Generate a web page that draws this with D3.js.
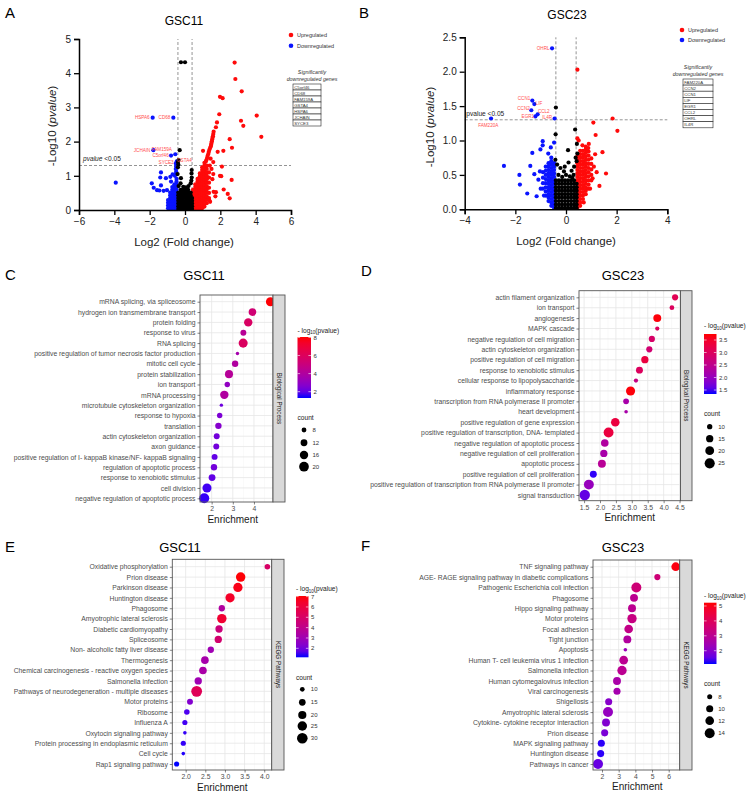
<!DOCTYPE html>
<html><head><meta charset="utf-8">
<script src="https://cdn.jsdelivr.net/npm/d3@7"></script>
<style>body{margin:0;background:#fff;} text{font-family:"Liberation Sans",Arial,Helvetica,sans-serif;}</style>
</head><body><svg id="c" width="756" height="795"></svg>
<script>
// ---------------- DATA ----------------
// Panel A (GSC11 volcano): [log2FC, -log10 p]
const aUpCols = [
 [0.45,[0.03,0.11,0.19,0.27,0.35,0.43,0.51,0.59]],
 [0.58,[0.03,0.11,0.19,0.27,0.35,0.43,0.51,0.59,0.67,0.75]],
 [0.71,[0.03,0.11,0.19,0.27,0.35,0.43,0.51,0.59,0.67,0.75,0.83,0.91]],
 [0.84,[0.03,0.11,0.19,0.27,0.35,0.43,0.51,0.59,0.67,0.75,0.83,0.91,0.99,1.07]],
 [0.97,[0.05,0.13,0.21,0.29,0.37,0.45,0.53,0.61,0.69,0.77,0.85,0.93,1.01,1.09,1.17,1.25]],
 [1.10,[0.10,0.18,0.26,0.34,0.42,0.50,0.58,0.66,0.74,0.82,0.90,0.98,1.06,1.14,1.22,1.30,1.38]],
 [1.23,[0.20,0.30,0.40,0.50,0.60,0.70,0.80,0.90,1.00,1.10,1.20,1.30]],
 [1.36,[0.35,0.50,0.65,0.80,0.95,1.10]]
];
const aUpPts = [[2.81,4.31],[2.85,3.83],[3.21,3.47],[1.98,3.31],[2.13,3.27],[4.06,2.76],[3.17,2.61],[3.30,2.46],[4.32,2.14],[1.94,2.80],[1.81,2.56],[1.75,2.42],[2.53,2.07],[2.66,1.82],[2.17,1.73],[1.85,1.70],[1.02,1.73],[2.09,1.27],[1.98,1.0],[2.05,0.99],[2.64,0.88],[2.19,0.6],[1.75,0.52],[2.42,0.47],[2.53,0.34],[1.42,0.24],[1.62,0.53],[1.72,0.4],[1.38,0.28],[1.1,0.2],[1.55,0.9],[1.6,1.05],[1.5,1.2],
 [1.62,2.29],[1.60,2.22],[1.58,2.16],[1.56,2.11],[1.54,2.06],[1.52,2.01],[1.50,1.96],[1.48,1.91],[1.46,1.86],[1.42,1.81],[1.38,1.76],[1.35,1.70],[1.32,1.64],[1.28,1.58],[1.25,1.52],[1.22,1.47],[1.18,1.42],[1.6,1.4],[1.45,1.5],[1.4,1.3]];
const aDownCols = [
 [-0.48,[0.03,0.11,0.19,0.27,0.35,0.43,0.51,0.59,0.67,0.75,0.83,0.91]],
 [-0.60,[0.03,0.11,0.19,0.27,0.35,0.43,0.51,0.59,0.67,0.75]],
 [-0.72,[0.03,0.11,0.19,0.27,0.35,0.43,0.51,0.59,0.67]],
 [-0.84,[0.03,0.11,0.19,0.27,0.35,0.43,0.51]],
 [-0.96,[0.05,0.13,0.21,0.29]]
];
const aDownPts = [[-3.92,0.8],[-1.36,1.1],[-1.4,0.95],[-1.08,0.93],[-1.88,0.78],[-1.77,0.65],[-1.58,0.58],[-1.36,0.72],[-1.21,0.56],[-1.02,0.58],[-0.79,0.83],[-0.83,0.97],[-0.7,1.04],[-0.57,1.0],[-1.45,0.57],[-0.5,1.28],[-0.52,1.2],[-0.5,1.12],[-0.53,1.05],
 [-1.83,2.70],[-0.66,2.70],[-1.79,1.75],[-0.55,1.63],[-0.79,1.59],[-0.52,1.36],[-0.47,1.42]];
const aNsCols = [
 [-0.38,[0.03,0.11,0.19,0.27,0.35,0.43,0.51]],
 [-0.24,[0.03,0.11,0.19,0.27,0.35,0.43,0.51,0.59]],
 [-0.10,[0.03,0.11,0.19,0.27,0.35,0.43,0.51,0.59]],
 [0.04,[0.03,0.11,0.19,0.27,0.35,0.43,0.51,0.59]],
 [0.18,[0.03,0.11,0.19,0.27,0.35,0.43,0.51,0.59]],
 [0.32,[0.03,0.11,0.19,0.27,0.35,0.43,0.51]],
 [0.40,[0.03,0.11,0.19,0.27,0.35]]
];
const aNsPts = [[-0.23,4.32],[0.0,4.32],[-0.3,1.75],[-0.36,1.46],[-0.4,1.4],[-0.38,1.33],[0.38,1.17],[0.37,1.07],[0.38,0.95],[0.36,0.86],[0.32,0.78],[-0.23,0.93],[-0.25,0.78],[-0.36,0.7],[0.2,0.7],[-0.1,0.68],[0.05,0.66],[-0.4,1.25],[-0.42,1.05]];
// labels: [gene, textX, textY, anchor]
const aLabels = [["HSPA6",-2.0,2.70,"end"],["CD68",-0.83,2.70,"end"],["JCHAIN",-1.96,1.75,"end"],["FAM159A",-0.74,1.76,"end"],["C5orf46",-0.92,1.59,"end"],["SYCE3",-0.64,1.38,"end"],["GSTA4",-0.45,1.46,"start"]];
const aTable = ["C5orf46","CD68","FAM159A","GSTA4","HSPA6","JCHAIN","SYCE3"];
const aXTicks = [-6,-4,-2,0,2,4,6];
const aYTicks = [0,1,2,3,4,5];

// Panel B (GSC23 volcano)
const bUpCols = [
 [0.45,[0.02,0.07,0.12,0.17,0.22,0.27,0.32,0.37,0.42,0.47,0.52,0.57,0.62,0.67,0.72,0.77]],
 [0.56,[0.05,0.10,0.15,0.20,0.25,0.30,0.35,0.40,0.45,0.50,0.55,0.60,0.65,0.70,0.75,0.80,0.85]],
 [0.67,[0.15,0.20,0.25,0.30,0.35,0.40,0.45,0.50,0.55,0.60,0.65,0.70,0.75,0.80,0.85]],
 [0.78,[0.22,0.27,0.32,0.37,0.42,0.47,0.52,0.57,0.62,0.67,0.72,0.77,0.82,0.87]],
 [0.89,[0.30,0.36,0.42,0.48,0.54,0.60,0.66,0.72,0.78,0.84]],
 [1.00,[0.42,0.50,0.58,0.66,0.74]]
];
const bUpPts = [[0.45,2.03],[1.84,1.32],[1.08,1.26],[2.03,1.14],[1.17,1.08],[1.44,0.83],[1.58,0.52],[1.32,0.34],[1.21,0.54],[0.45,1.03],[0.5,1.0],[0.65,0.93],[0.78,0.91],[0.88,0.89],[1.1,0.62],[1.05,0.45],[0.95,0.3],[0.7,0.1],[1.15,0.8],[0.9,0.95]];
const bDownCols = [
 [-0.47,[0.02,0.07,0.12,0.17,0.22,0.27,0.32,0.37,0.42,0.47,0.52,0.57,0.62,0.67]],
 [-0.58,[0.05,0.10,0.15,0.20,0.25,0.30,0.35,0.40,0.45,0.50,0.55,0.60,0.65,0.70,0.75]],
 [-0.69,[0.12,0.17,0.22,0.27,0.32,0.37,0.42,0.47,0.52,0.57,0.62,0.67]],
 [-0.80,[0.20,0.26,0.32,0.38,0.44,0.50,0.56,0.62]],
 [-0.91,[0.30,0.38,0.46,0.54]]
];
const bDownPts = [[-2.45,0.63],[-1.84,0.5],[-1.82,0.36],[-1.53,0.23],[-1.41,0.63],[-1.33,0.82],[-1.25,0.51],[-1.16,0.19],[-1.01,0.87],[-0.92,0.99],[-0.92,0.93],[-0.87,0.2],[-1.03,0.55],[-1.09,0.43],[-0.47,0.97],[-0.7,0.81],[-0.6,0.9],[-1.0,0.3],
 [-0.55,2.34],[-1.33,1.58],[-1.25,1.53],[-1.37,1.44],[-1.12,1.38],[-1.21,1.35],[-0.45,1.32],[-2.96,1.32]];
const bNsCols = [
 [-0.40,[0.02,0.07,0.12,0.17,0.22,0.27,0.32,0.37,0.42]],
 [-0.28,[0.02,0.07,0.12,0.17,0.22,0.27,0.32,0.37,0.42]],
 [-0.16,[0.02,0.07,0.12,0.17,0.22,0.27,0.32,0.37,0.42]],
 [-0.04,[0.02,0.07,0.12,0.17,0.22,0.27,0.32,0.37,0.42]],
 [0.08,[0.02,0.07,0.12,0.17,0.22,0.27,0.32,0.37,0.42]],
 [0.20,[0.02,0.07,0.12,0.17,0.22,0.27,0.32,0.37,0.42]],
 [0.32,[0.02,0.07,0.12,0.17,0.22,0.27,0.32,0.37,0.42]],
 [0.42,[0.02,0.07,0.12,0.17,0.22,0.27,0.32,0.37]]
];
const bNsPts = [[-0.4,1.48],[-0.41,1.09],[0.36,1.16],[0.43,0.95],[0.08,0.86],[0.45,0.81],[-0.35,0.65],[-0.22,0.6],[-0.08,0.55],[0.1,0.68],[0.22,0.56],[0.32,0.62],[-0.3,0.5],[0.0,0.5],[0.15,0.48],[-0.15,0.47],[0.38,0.75],[0.42,0.7],[-0.42,0.72],[0.3,0.5],[-0.05,0.62],[0.25,0.46]];
const bLabels = [["OHRL",-0.65,2.34,"end"],["CCN1",-1.41,1.61,"end"],["LIF",-1.2,1.54,"start"],["CCN2",-1.43,1.46,"end"],["CCL2",-1.11,1.43,"start"],["EGR1",-1.26,1.35,"end"],["IL4R",-0.55,1.34,"end"],["FAM220A",-3.07,1.22,"middle"]];
const bTable = ["FAM220A","CCN2","CCN1","LIF","EGR1","CCL2","OHRL","IL4R"];
const bXTicks = [-4,-2,0,2,4];
const bYTicks = [0,0.5,1.0,1.5,2.0,2.5];

// Panel C (GSC11 GO BP)
const cTerms = ["mRNA splicing, via spliceosome","hydrogen ion transmembrane transport","protein folding","response to virus","RNA splicing","positive regulation of tumor necrosis factor production","mitotic cell cycle","protein stabilization","ion transport","mRNA processing","microtubule cytoskeleton organization","response to hypoxia","translation","actin cytoskeleton organization","axon guidance","positive regulation of I- kappaB kinase/NF- kappaB signaling","regulation of apoptotic process","response to xenobiotic stimulus","cell division","negative regulation of apoptotic process"];
const cEnrich = [4.78,3.93,3.73,3.5,3.49,3.22,3.11,2.82,2.74,2.6,2.46,2.38,2.32,2.24,2.22,2.14,2.11,2.02,1.78,1.65];
const cLogP = [8.0,5.3,5.8,4.3,5.9,3.6,4.0,4.2,3.0,4.0,2.2,2.5,2.7,2.3,2.3,2.0,2.3,2.0,1.6,1.5];
const cCount = [18,14,16,10,18,6,11,15,9,16,6,9,11,10,10,10,11,12,18,21];
const cXTicks = [2,3,4];
const cColorTicks = [2,4,6,8];
const cCountTicks = [8,12,16,20];

// Panel D (GSC23 GO BP)
const dTerms = ["actin filament organization","ion transport","angiogenesis","MAPK cascade","negative regulation of cell migration","actin cytoskeleton organization","positive regulation of cell migration","response to xenobiotic stimulus","cellular response to lipopolysaccharide","inflammatory response","transcription from RNA polymerase II promoter","heart development","positive regulation of gene expression","positive regulation of transcription, DNA- templated","negative regulation of apoptotic process","negative regulation of cell proliferation","apoptotic process","positive regulation of cell proliferation","positive regulation of transcription from RNA polymerase II promoter","signal transduction"];
const dEnrich = [4.36,4.26,3.8,3.8,3.63,3.55,3.41,3.24,3.13,2.96,2.82,2.82,2.48,2.27,2.15,2.12,2.06,1.79,1.65,1.52];
const dLogP = [3.1,3.0,3.7,3.0,2.9,2.8,3.3,3.0,2.6,3.7,2.2,2.2,3.3,3.3,2.3,2.2,2.4,1.4,2.0,1.6];
const dCount = [12,9,17,8,12,12,15,14,8,21,11,7,19,24,16,15,17,14,24,26];
const dXTicks = [1.5,2.0,2.5,3.0,3.5,4.0,4.5];
const dColorTicks = [1.5,2.0,2.5,3.0,3.5];
const dCountTicks = [10,15,20,25];

// Panel E (GSC11 KEGG)
const eTerms = ["Oxidative phosphorylation","Prion disease","Parkinson disease","Huntington disease","Phagosome","Amyotrophic lateral sclerosis","Diabetic cardiomyopathy","Spliceosome","Non- alcoholic fatty liver disease","Thermogenesis","Chemical carcinogenesis -  reactive oxygen species","Salmonella infection","Pathways of neurodegeneration -  multiple diseases","Motor proteins","Ribosome","Influenza A","Oxytocin signaling pathway","Protein processing in endoplasmic reticulum","Cell cycle","Rap1 signaling pathway"];
const eEnrich = [4.08,3.4,3.33,3.13,2.92,2.92,2.85,2.83,2.64,2.49,2.44,2.32,2.28,2.11,2.03,1.98,1.98,1.94,1.94,1.77];
const eLogP = [5.0,7.0,6.8,6.5,3.5,6.3,4.5,4.8,3.0,3.2,3.3,3.0,5.4,2.3,1.5,1.4,1.3,1.3,1.2,1.1];
const eCount = [12,25,24,24,14,25,17,17,14,18,18,17,31,13,12,11,8,11,8,11];
const eXTicks = [2.0,2.5,3.0,3.5,4.0];
const eColorTicks = [2,3,4,5,6,7];
const eCountTicks = [10,15,20,25,30];

// Panel F (GSC23 KEGG)
const fTerms = ["TNF signaling pathway","AGE- RAGE signaling pathway in diabetic complications","Pathogenic Escherichia coli infection","Phagosome","Hippo signaling pathway","Motor proteins","Focal adhesion","Tight junction","Apoptosis","Human T- cell leukemia virus 1 infection","Salmonella infection","Human cytomegalovirus infection","Viral carcinogenesis","Shigellosis","Amyotrophic lateral sclerosis","Cytokine- cytokine receptor interaction","Prion disease","MAPK signaling pathway","Huntington disease","Pathways in cancer"];
const fEnrich = [6.42,5.32,4.06,3.92,3.8,3.8,3.6,3.52,3.4,3.3,3.2,2.9,2.9,2.4,2.36,2.24,2.16,1.96,1.92,1.76];
const fLogP = [5.1,3.5,3.5,3.0,3.0,3.3,3.2,2.8,2.3,3.0,3.0,2.6,2.5,2.0,2.2,1.9,1.8,1.2,1.2,1.6];
const fCount = [12,9,14,11,11,13,12,11,7,12,13,11,10,10,14,11,10,10,10,14];
const fXTicks = [2,3,4,5,6];
const fColorTicks = [2,3,4,5];
const fCountTicks = [8,10,12,14];

// ---------------- DRAWING ----------------
const svg = d3.select("#c");
const defs = svg.append("defs");
function expand(cols){const o=[];cols.forEach(([x,ys])=>ys.forEach(y=>o.push([x,y])));return o;}

function letter(t,x,y){svg.append("text").attr("x",x).attr("y",y).attr("font-size",15).attr("fill","#000").text(t);}

function volcano(o){
  const x=d3.scaleLinear().domain(o.xd).range([o.l,o.r]);
  const y=d3.scaleLinear().domain(o.yd).range([o.b,o.t]);
  const g=svg.append("g");
  const thr=-Math.log10(0.05);
  [-0.4,0.4].forEach(v=>g.append("line").attr("x1",x(v)).attr("x2",x(v)).attr("y1",o.b).attr("y2",o.t)
    .attr("stroke","#666").attr("stroke-width",0.7).attr("stroke-dasharray","3,2"));
  g.append("line").attr("x1",o.l).attr("x2",o.r).attr("y1",y(thr)).attr("y2",y(thr))
    .attr("stroke","#666").attr("stroke-width",0.7).attr("stroke-dasharray","3,2");
  const dot=(data,c)=>g.append("g").selectAll("circle").data(data).join("circle")
    .attr("cx",d=>x(d[0])).attr("cy",d=>y(d[1])).attr("r",2.1).attr("fill",c);
  dot(o.up,"#ff0a0a"); dot(o.down,"#0a14ff"); dot(o.ns,"#000");
  g.append("g").selectAll("text").data(o.labels).join("text")
    .attr("x",d=>x(d[1])).attr("y",d=>y(d[2])).attr("dy","0.35em").attr("text-anchor",d=>d[3])
    .attr("font-size",4.6).attr("fill","#ff5050").text(d=>d[0]);
  const xa=g.append("g").attr("transform",`translate(0,${o.b})`).call(d3.axisBottom(x).tickValues(o.xt).tickSize(5).tickPadding(3).tickFormat(d3.format("d")));
  const ya=g.append("g").attr("transform",`translate(${o.l},0)`).call(d3.axisLeft(y).tickValues(o.yt).tickSize(5).tickPadding(3).tickFormat(d3.format(o.yf)));
  [xa,ya].forEach(a=>{a.select(".domain").attr("stroke-width",1.5).attr("stroke","#000");
    a.selectAll(".tick line").attr("stroke-width",1.3).attr("stroke","#000");
    a.selectAll("text").attr("font-size",10).attr("fill","#222").attr("font-family",'"Liberation Sans",Arial,sans-serif');});
  g.append("text").attr("x",o.title[0]).attr("y",o.title[1]).attr("text-anchor","middle").attr("font-size",12).text(o.titleText);
  g.append("text").attr("x",o.xlab[0]).attr("y",o.xlab[1]).attr("text-anchor","middle").attr("font-size",11.5).attr("fill","#222").text("Log2 (Fold change)");
  const yl=g.append("text").attr("transform",`translate(${o.ylab[0]},${o.ylab[1]}) rotate(-90)`).attr("text-anchor","middle").attr("font-size",11.5).attr("fill","#222");
  yl.append("tspan").text("-Log10 (");yl.append("tspan").attr("font-style","italic").text("pvalue");yl.append("tspan").text(")");
  const pv=g.append("text").attr("x",o.pv[0]).attr("y",o.pv[1]).attr("font-size",6.6).attr("fill","#222");
  pv.append("tspan").attr("font-style",o.pvItalic?"italic":"normal").text("pvalue");pv.append("tspan").text(" <0.05");
  [["Upregulated","#ff0a0a",o.leg[1]],["Downregulated","#0a14ff",o.leg[2]]].forEach(([t,c,yy])=>{
    g.append("circle").attr("cx",o.leg[0]).attr("cy",yy).attr("r",2.3).attr("fill",c);
    g.append("text").attr("x",o.leg[0]+6).attr("y",yy).attr("dy","0.35em").attr("font-size",5.5).attr("fill","#333").text(t);});
  ["Significantly","downregulated genes"].forEach((t,i)=>g.append("text").attr("x",o.sig[0]).attr("y",o.sig[1]+i*7)
    .attr("text-anchor","middle").attr("font-size",5.3).attr("font-style","italic").attr("fill","#333").text(t));
  const tb=o.tab;
  o.table.forEach((t,i)=>{
    g.append("rect").attr("x",tb[0]).attr("y",tb[1]+i*tb[3]).attr("width",tb[2]).attr("height",tb[3]).attr("fill","#fff").attr("stroke","#222").attr("stroke-width",0.6);
    g.append("text").attr("x",tb[0]+1.2).attr("y",tb[1]+i*tb[3]+tb[3]/2).attr("dy","0.35em").attr("font-size",4.3).attr("fill","#333").text(t);
  });
}

volcano({l:79,r:291,t:39,b:210,xd:[-6,6],yd:[0,5],xt:aXTicks,yt:aYTicks,yf:"d",
  up:expand(aUpCols).concat(aUpPts),down:expand(aDownCols).concat(aDownPts),ns:expand(aNsCols).concat(aNsPts),
  labels:aLabels,table:aTable,titleText:"GSC11",title:[184,24.5],xlab:[184,246],ylab:[56,126],
  pv:[83,161],pvItalic:true,leg:[291,35,45.7],sig:[312,74],tab:[293,84,28,6]});
volcano({l:464.7,r:667.3,t:37.3,b:209.3,xd:[-4,4],yd:[0,2.5],xt:bXTicks,yt:bYTicks,yf:".1f",
  up:expand(bUpCols).concat(bUpPts),down:expand(bDownCols).concat(bDownPts),ns:expand(bNsCols).concat(bNsPts),
  labels:bLabels,table:bTable,titleText:"GSC23",title:[567,18.5],xlab:[566,245],ylab:[434,127],
  pv:[466.3,116],pvItalic:false,leg:[682,30,40],sig:[698,69],tab:[683,79,30,6.1]});

let gid=0;
function bubble(o){
  const x=d3.scaleLinear().domain(o.xd).range([o.l,o.r]);
  const y=d3.scalePoint().domain(o.terms).range([o.r0,o.r1]);
  const col=d3.scaleSequential(d3.interpolateLab("#0000ff","#ff0000")).domain(o.cd);
  const ext=d3.extent(o.count);
  const area=d3.scaleLinear().domain(ext).range([o.rmin*o.rmin,o.rmax*o.rmax]);
  const rad=c=>Math.sqrt(Math.max(0.5,area(c)));
  const g=svg.append("g");
  g.append("rect").attr("x",o.l).attr("y",o.t).attr("width",o.r-o.l).attr("height",o.b-o.t).attr("fill","#fff");
  o.minor.forEach(v=>g.append("line").attr("x1",x(v)).attr("x2",x(v)).attr("y1",o.t).attr("y2",o.b).attr("stroke","#f2f2f2").attr("stroke-width",0.5));
  o.ticks.forEach(v=>g.append("line").attr("x1",x(v)).attr("x2",x(v)).attr("y1",o.t).attr("y2",o.b).attr("stroke","#e6e6e6").attr("stroke-width",0.8));
  o.terms.forEach(t=>g.append("line").attr("x1",o.l).attr("x2",o.r).attr("y1",y(t)).attr("y2",y(t)).attr("stroke","#e6e6e6").attr("stroke-width",0.8));
  const pts=o.terms.map((t,i)=>({t,e:o.enrich[i],p:o.logp[i],c:o.count[i]}));
  g.append("g").selectAll("circle").data(pts).join("circle").attr("cx",d=>x(d.e)).attr("cy",d=>y(d.t)).attr("r",d=>rad(d.c)).attr("fill",d=>col(d.p));
  g.append("rect").attr("x",o.l).attr("y",o.t).attr("width",o.r-o.l).attr("height",o.b-o.t).attr("fill","none").attr("stroke","#555").attr("stroke-width",0.9);
  g.append("rect").attr("x",o.r).attr("y",o.t).attr("width",o.s-o.r).attr("height",o.b-o.t).attr("fill","#d9d9d9").attr("stroke","#555").attr("stroke-width",0.9);
  g.append("text").attr("transform",`translate(${(o.r+o.s)/2},${(o.t+o.b)/2}) rotate(90)`).attr("text-anchor","middle").attr("dy","0.35em").attr("font-size",6.3).attr("fill","#1a1a1a").text(o.strip);
  const ya=g.append("g").attr("transform",`translate(${o.l},0)`).call(d3.axisLeft(y).tickSize(2.5).tickPadding(2));
  const xa=g.append("g").attr("transform",`translate(0,${o.b})`).call(d3.axisBottom(x).tickValues(o.ticks).tickSize(2.5).tickPadding(1.5).tickFormat(d3.format(o.fmt)));
  [xa,ya].forEach(a=>{a.select(".domain").remove();a.selectAll(".tick line").attr("stroke","#333").attr("stroke-width",0.6);
    a.selectAll("text").attr("font-family",'"Liberation Sans",Arial,sans-serif').attr("fill","#4d4d4d");});
  ya.selectAll("text").attr("font-size",6.8);
  xa.selectAll("text").attr("font-size",6.8);
  g.append("text").attr("x",o.title[0]).attr("y",o.title[1]).attr("text-anchor","middle").attr("font-size",13).text(o.titleText);
  g.append("text").attr("x",o.xlab[0]).attr("y",o.xlab[1]).attr("text-anchor","middle").attr("font-size",10).attr("fill","#1a1a1a").text("Enrichment");
  const id="gr"+(gid++);
  const lg=defs.append("linearGradient").attr("id",id).attr("x1",0).attr("y1",1).attr("x2",0).attr("y2",0);
  d3.range(11).forEach(i=>lg.append("stop").attr("offset",i/10).attr("stop-color",col(o.cd[0]+i/10*(o.cd[1]-o.cd[0]))));
  const cb=o.cb;
  g.append("rect").attr("x",cb.x).attr("y",cb.y0).attr("width",cb.w).attr("height",cb.y1-cb.y0).attr("fill",`url(#${id})`);
  const cy=d3.scaleLinear().domain(o.cd).range([cb.y1,cb.y0]);
  o.cTicks.forEach(v=>{
    g.append("line").attr("x1",cb.x).attr("x2",cb.x+2.6).attr("y1",cy(v)).attr("y2",cy(v)).attr("stroke","#fff").attr("stroke-width",0.6);
    g.append("line").attr("x1",cb.x+cb.w-2.6).attr("x2",cb.x+cb.w).attr("y1",cy(v)).attr("y2",cy(v)).attr("stroke","#fff").attr("stroke-width",0.6);
    g.append("text").attr("x",cb.x+cb.w+2.5).attr("y",cy(v)).attr("dy","0.35em").attr("font-size",6).attr("fill","#333").text(d3.format(o.cfmt)(v));
  });
  const tt=g.append("text").attr("x",cb.x).attr("y",cb.ty).attr("font-size",6.6).attr("fill","#1a1a1a");
  tt.append("tspan").text("- log");tt.append("tspan").attr("font-size",4.5).attr("dy",1.5).text("10");tt.append("tspan").attr("dy",-1.5).text("(pvalue)");
  g.append("text").attr("x",cb.x).attr("y",o.cnt.ty).attr("font-size",6.6).attr("fill","#1a1a1a").text("count");
  o.cntTicks.forEach((v,i)=>{
    g.append("circle").attr("cx",o.cnt.cx).attr("cy",o.cnt.ys[i]).attr("r",rad(v)).attr("fill","#000");
    g.append("text").attr("x",o.cnt.cx+8.5).attr("y",o.cnt.ys[i]).attr("dy","0.35em").attr("font-size",6).attr("fill","#333").text(v);
  });
}

bubble({terms:cTerms,enrich:cEnrich,logp:cLogP,count:cCount,l:200,r:273,s:285,t:295,b:502,xd:[1.45,4.9],ticks:cXTicks,minor:[1.5,2.5,3.5,4.5],fmt:"d",
  r0:301.7,r1:498.3,cd:[1.3,8.05],cTicks:cColorTicks,cfmt:"d",cb:{x:297.5,w:13.5,y0:337,y1:398,ty:332.5},cnt:{ty:420,cx:304,ys:[430,442.7,455,466.7]},cntTicks:cCountTicks,
  rmin:1.7,rmax:5,strip:"Biological Process",titleText:"GSC11",title:[204,280],xlab:[232.7,523]});
bubble({terms:dTerms,enrich:dEnrich,logp:dLogP,count:dCount,l:579,r:680.5,s:692,t:290.7,b:500.7,xd:[1.34,4.53],ticks:dXTicks,minor:[1.75,2.25,2.75,3.25,3.75,4.25],fmt:".1f",
  r0:297.3,r1:495,cd:[1.34,3.74],cTicks:dColorTicks,cfmt:".1f",cb:{x:704,w:12.5,y0:334,y1:394,ty:328},cnt:{ty:416,cx:709.7,ys:[426.7,438.7,450.7,463.3]},cntTicks:dCountTicks,
  rmin:1.8,rmax:5.2,strip:"Biological Process",titleText:"GSC23",title:[623,279.5],xlab:[629.7,520.5]});
bubble({terms:eTerms,enrich:eEnrich,logp:eLogP,count:eCount,l:172.3,r:271.7,s:284,t:559.3,b:770,xd:[1.66,4.19],ticks:eXTicks,minor:[1.75,2.25,2.75,3.25,3.75],fmt:".1f",
  r0:566.7,r1:764,cd:[1.13,7.06],cTicks:eColorTicks,cfmt:"d",cb:{x:296,w:12.5,y0:596,y1:657.3,ty:591},cnt:{ty:679.5,cx:302.3,ys:[689.3,702.3,715,726,738.3]},cntTicks:eCountTicks,
  rmin:1.8,rmax:5.4,strip:"KEGG Pathways",titleText:"GSC11",title:[180,551.5],xlab:[222.3,790.5]});
bubble({terms:fTerms,enrich:fEnrich,logp:fLogP,count:fCount,l:593,r:679.7,s:692,t:560,b:770,xd:[1.46,6.66],ticks:fXTicks,minor:[1.5,2.5,3.5,4.5,5.5,6.5],fmt:"d",
  r0:566.7,r1:764,cd:[1.11,5.22],cTicks:fColorTicks,cfmt:"d",cb:{x:704,w:12.5,y0:602.7,y1:664,ty:598},cnt:{ty:685.5,cx:709.7,ys:[696.7,708.7,720.7,733.3]},cntTicks:fCountTicks,
  rmin:1.8,rmax:5,strip:"KEGG Pathways",titleText:"GSC23",title:[623,552],xlab:[637.3,790]});

letter("A",5,17.5);letter("B",359,17.5);letter("C",5,279.5);letter("D",361,276);letter("E",5,551.5);letter("F",361,551);
</script></body></html>
